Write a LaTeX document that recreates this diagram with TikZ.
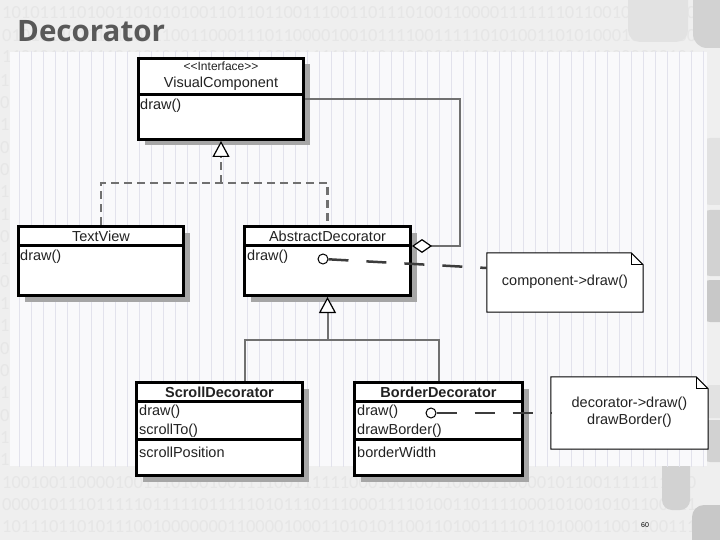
\documentclass[tikz,border=0pt]{standalone}
\usepackage{fontspec}
\setmainfont{Liberation Sans}
\newfontfamily\titlefont{Open Sans}
\newfontfamily\digitfont{Carlito}
\usetikzlibrary{arrows.meta,shadows,calc}
\definecolor{bgc}{HTML}{EFEFEF}
\definecolor{digc}{HTML}{E6E6E6}
\definecolor{gridbg}{HTML}{F9F9FB}
\definecolor{gridln}{HTML}{E2E2EC}
\definecolor{titlec}{HTML}{595959}
\definecolor{linkc}{HTML}{707070}
\definecolor{notelc}{HTML}{3C3C3C}
\definecolor{txtc}{HTML}{222222}
\definecolor{shadc}{HTML}{A6A6A6}
\definecolor{decoA}{HTML}{E2E2E2}
\definecolor{decoB}{HTML}{D2D2D2}
\definecolor{decoC}{HTML}{C8C8C8}
\tikzset{
  classbox/.style={draw=black, line width=3pt, fill=white, inner sep=0pt,
    drop shadow={shadow xshift=6pt, shadow yshift=-6pt, fill=shadc, opacity=1}},
  sepline/.style={draw=black, line width=2.5pt},
  lbl/.style={inner sep=0pt, text=txtc, font=\fontsize{14.5}{17}\selectfont},
  lblsmall/.style={inner sep=0pt, text=txtc, font=\fontsize{12}{13}\selectfont},
  lblb/.style={inner sep=0pt, text=txtc, font=\bfseries\fontsize{14.5}{17}\selectfont},
  opl/.style={lbl, anchor=west},
  realize/.style={draw=linkc, line width=2.5pt, dash pattern=on 8pt off 5pt},
  general/.style={draw=linkc, line width=2pt},
  agg/.style={draw=linkc, line width=2pt},
  notelink/.style={draw=notelc, line width=2.5pt, dash pattern=on 20pt off 18pt},
  lolli/.style={circle, draw=black, line width=1pt, fill=white, minimum size=10pt, inner sep=0pt},
  notebody/.style={inner sep=0pt, align=center, text=txtc, font=\fontsize{14.5}{17}\selectfont},
  notec/.style={draw=black, line width=1pt, fill=white},
  digrow/.style={anchor=west, inner sep=0pt, text=digc, font=\digitfont\fontsize{18.5}{20}\selectfont},
  opentri/.tip={Triangle[length=16pt,width=17pt,line width=1.2pt,color=black,fill=white]},
  opendia/.tip={Diamond[length=20pt,width=14pt,line width=1.2pt,color=black,fill=white]}
}
\begin{document}
\begin{tikzpicture}[x=1pt,y=-1pt]
\useasboundingbox (0,0) rectangle (720,540);
\fill[bgc] (0,0) rectangle (720,540);
% binary background rows (top and bottom)
\node[digrow] (dig0) at (2,13) {10101111010011010101001101101100111001101110100110000111111101100100010010};
\node[digrow] (dig1) at (2,35.5) {01010110101111011100110001110110000100101111001111101010011010100010000100};
\node[digrow] (dig2) at (2,57) {11010110101101001010100100010000111100110110000111101101110101110000000101};
\node[digrow] (dig21) at (2,482.5) {10010011000010011101001001111001111110001001001100001100001011001111111010};
\node[digrow] (dig22) at (2,505) {00001011101111101111101111101011101110001111010011011110001010010101100111};
\node[digrow] (dig23) at (2,527) {10111011010111001000000011000010001101010110011010011110110100011001100111};
% left margin digits
\foreach \d [count=\i from 3] in {1,0,1,0,0,1,1,0,1,0,1,1,0,0,1,0,1,1}
{ \node[digrow] (dig\i) at (0, 13+22.35*\i) {\d}; }
% right side decorations
\fill[decoA, rounded corners=12pt] (628,-20) rectangle (688,42);
\fill[decoB, rounded corners=14pt] (693,-20) rectangle (740,48);
\fill[decoA, rounded corners=10pt] (700,138) rectangle (740,205);
\fill[decoB, rounded corners=10pt] (700,210) rectangle (740,276);
\fill[decoC, rounded corners=10pt] (700,280) rectangle (740,322);
\fill[decoA, rounded corners=10pt] (700,385) rectangle (740,418);
\fill[decoB, rounded corners=10pt] (700,420) rectangle (740,462);
\fill[decoB, rounded corners=10pt] (662,452) rectangle (690,510);
\fill[decoC, rounded corners=12pt] (692,505) rectangle (740,560);
% grid area
\fill[gridbg] (10,52) rectangle (707,466);
\begin{scope}
\clip (10,52) rectangle (707,466);
\draw[gridln, line width=1.2pt, shift={(7.3,10.3)}, step=12] (0,36) grid (708,468);
\end{scope}
% title
\node[anchor=base west, inner sep=0pt, text=titlec, font=\titlefont\bfseries\fontsize{29.5}{31}\selectfont] (title) at (17,42) {Decorator};
% class boxes
\node[classbox, minimum width=165pt, minimum height=81pt] (VC) at (221,99) {};
\node[classbox, minimum width=165pt, minimum height=69pt] (TV) at (101,261) {};
\node[classbox, minimum width=166pt, minimum height=69pt] (AD) at (327.5,261) {};
\node[classbox, minimum width=166pt, minimum height=93pt] (SD) at (219.5,429) {};
\node[classbox, minimum width=168pt, minimum height=93pt] (BD) at (438.5,429) {};
% separators
\draw[sepline] ($(VC.north west)+(1.5,37.5)$) -- ($(VC.north east)+(-1.5,37.5)$);
\draw[sepline] ($(TV.north west)+(1.5,20.5)$) -- ($(TV.north east)+(-1.5,20.5)$);
\draw[sepline] ($(AD.north west)+(1.5,20.5)$) -- ($(AD.north east)+(-1.5,20.5)$);
\draw[sepline] ($(SD.north west)+(1.5,20.5)$) -- ($(SD.north east)+(-1.5,20.5)$);
\draw[sepline] ($(SD.north west)+(1.5,58.5)$) -- ($(SD.north east)+(-1.5,58.5)$);
\draw[sepline] ($(BD.north west)+(1.5,20.5)$) -- ($(BD.north east)+(-1.5,20.5)$);
\draw[sepline] ($(BD.north west)+(1.5,58.5)$) -- ($(BD.north east)+(-1.5,58.5)$);
% texts
\node[lblsmall] (VCst) at (221,66) {<{}<Interface>{}>};
\node[lbl] (VCname) at (221,84) {VisualComponent};
\node[opl] (VCop) at (140,106) {draw()};
\node[lbl] (TVname) at (101,236) {TextView};
\node[opl] (TVop) at (20,257) {draw()};
\node[lbl] (ADname) at (327.5,236) {AbstractDecorator};
\node[opl] (ADop) at (247,257) {draw()};
\node[lblb] (SDname) at (219.5,392) {ScrollDecorator};
\node[opl] (SDop1) at (139,412) {draw()};
\node[opl] (SDop2) at (139,431) {scrollTo()};
\node[opl] (SDat) at (139,452) {scrollPosition};
\node[lblb] (BDname) at (438.5,392) {BorderDecorator};
\node[opl] (BDop1) at (357,412) {draw()};
\node[opl] (BDop2) at (357,431) {drawBorder()};
\node[opl] (BDat) at (357,452) {borderWidth};
% notes
\node[notebody, minimum width=156pt, minimum height=59pt] (N1) at (565,282.5) {};
\draw[notec] (N1.north west) -- ($(N1.north east)+(-12,0)$) -- ($(N1.north east)+(0,12)$) -- (N1.south east) -- (N1.south west) -- cycle;
\draw[notec, fill=none] ($(N1.north east)+(-12,0)$) -- ($(N1.north east)+(-12,12)$) -- ($(N1.north east)+(0,12)$);
\node[notebody] (N1t) at (565,282) {component->draw()};
\node[notebody, minimum width=157pt, minimum height=72pt] (N2) at (629.5,413) {};
\draw[notec] (N2.north west) -- ($(N2.north east)+(-12,0)$) -- ($(N2.north east)+(0,12)$) -- (N2.south east) -- (N2.south west) -- cycle;
\draw[notec, fill=none] ($(N2.north east)+(-12,0)$) -- ($(N2.north east)+(-12,12)$) -- ($(N2.north east)+(0,12)$);
\node[notebody] (N2t) at (629.5,412.5) {decorator->draw()\\drawBorder()};
% realization (interface)
\coordinate (j1) at (221,183);
\draw[realize] (TV.north) |- (j1) -| (AD.north);
\draw[realize, -opentri] (j1) -- (VC.south);
% generalization
\coordinate (j2) at (327.5,340);
\draw[general] ([xshift=25.5pt]SD.north) |- (j2) -| (BD.north);
\draw[general, -opentri] (j2) -- (AD.south);
% aggregation
\coordinate (k) at (460,246);
\draw[agg, opendia-] ([yshift=15pt]AD.east) -- (k) |- (VC.east);
% note links
\node[lolli] (c1) at (323,259) {};
\node[lolli] (c2) at (431,413) {};
\draw[notelink] (c1) -- ([yshift=14.5pt]N1.west);
\draw[notelink] (c2) -- (N2.west);
% page number
\node[inner sep=0pt, font=\fontsize{7}{8}\selectfont] (pg) at (645,525) {60};
\end{tikzpicture}
\end{document}
